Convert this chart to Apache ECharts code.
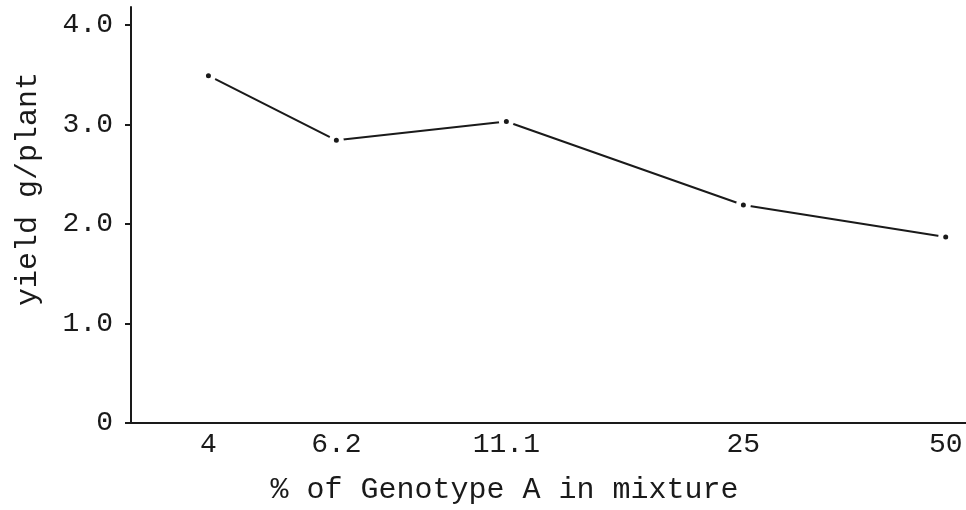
<!DOCTYPE html>
<html>
<head>
  <title>yield per plant</title>
  <meta http-equiv="content-type" content="text/html; charset=UTF-8">
  <style type="text/css">
    html, body { margin: 0; padding: 0; background: #ffffff; }
    #chart { width: 966px; height: 510px; }
  </style>
  <script src="https://cdn.jsdelivr.net/npm/echarts@6/dist/echarts.min.js"></script>
</head>
<body>
<div id="chart"></div>
<script type="text/javascript">
    // % of genotype A in the mixture, and yield (g/plant)
    var genotypePct = [4, 6.2, 11.1, 25, 50];
    var yieldPerPlant = [3.49, 2.84, 3.03, 2.19, 1.87];
    var xTickLabels = ['4', '6.2', '11.1', '25', '50'];
    var yTicks = [0, 1, 2, 3, 4];

    var font = '"Liberation Mono", "DejaVu Sans Mono", monospace';
    var ink = '#1a1a1a';

    var points = [];
    for (var i = 0; i < genotypePct.length; i++) {
        points.push([genotypePct[i], yieldPerPlant[i]]);
    }

    var myChart = echarts.init(document.getElementById('chart'), null, {renderer: 'canvas'});
    var option = {
        backgroundColor: '#ffffff',
        animation: false,
        grid: {left: 131, right: 0, top: 7, bottom: 84, containLabel: false},
        xAxis: {
            type: 'log',
            logBase: 10,
            min: 3.068,
            max: 53.6,
            name: '% of Genotype A in mixture',
            nameLocation: 'middle',
            nameGap: 52,
            nameTextStyle: {fontFamily: font, fontSize: 30, color: ink, padding: [0, 88, 0, 0]},
            axisLine: {show: true, lineStyle: {color: ink, width: 2}},
            axisTick: {show: false},
            minorTick: {show: false},
            splitLine: {show: false},
            axisLabel: {
                customValues: genotypePct,
                margin: 8,
                fontFamily: font,
                fontSize: 28,
                color: ink,
                formatter: function (v) {
                    for (var k = 0; k < genotypePct.length; k++) {
                        if (Math.abs(genotypePct[k] - v) < 1e-6) return xTickLabels[k];
                    }
                    return '';
                }
            }
        },
        yAxis: {
            type: 'value',
            min: 0,
            max: 4.18,
            name: 'yield g/plant',
            nameLocation: 'middle',
            nameGap: 88,
            nameTextStyle: {fontFamily: font, fontSize: 30, color: ink, padding: [0, 0, 0, 52]},
            axisLine: {show: true, lineStyle: {color: ink, width: 2}},
            axisTick: {show: true, customValues: yTicks, length: 6, lineStyle: {color: ink, width: 2}},
            splitLine: {show: false},
            axisLabel: {
                customValues: yTicks,
                margin: 18,
                fontFamily: font,
                fontSize: 28,
                color: ink,
                formatter: function (v) {
                    return v === 0 ? '0' : v.toFixed(1);
                }
            }
        },
        series: [{
            type: 'line',
            data: points,
            symbol: 'circle',
            symbolSize: 10,
            // white ring leaves the small gap round each dot, as in the typed figure
            itemStyle: {color: ink, borderColor: '#ffffff', borderWidth: 5},
            lineStyle: {color: ink, width: 2}
        }]
    };
    myChart.setOption(option);
</script>
</body>
</html>
